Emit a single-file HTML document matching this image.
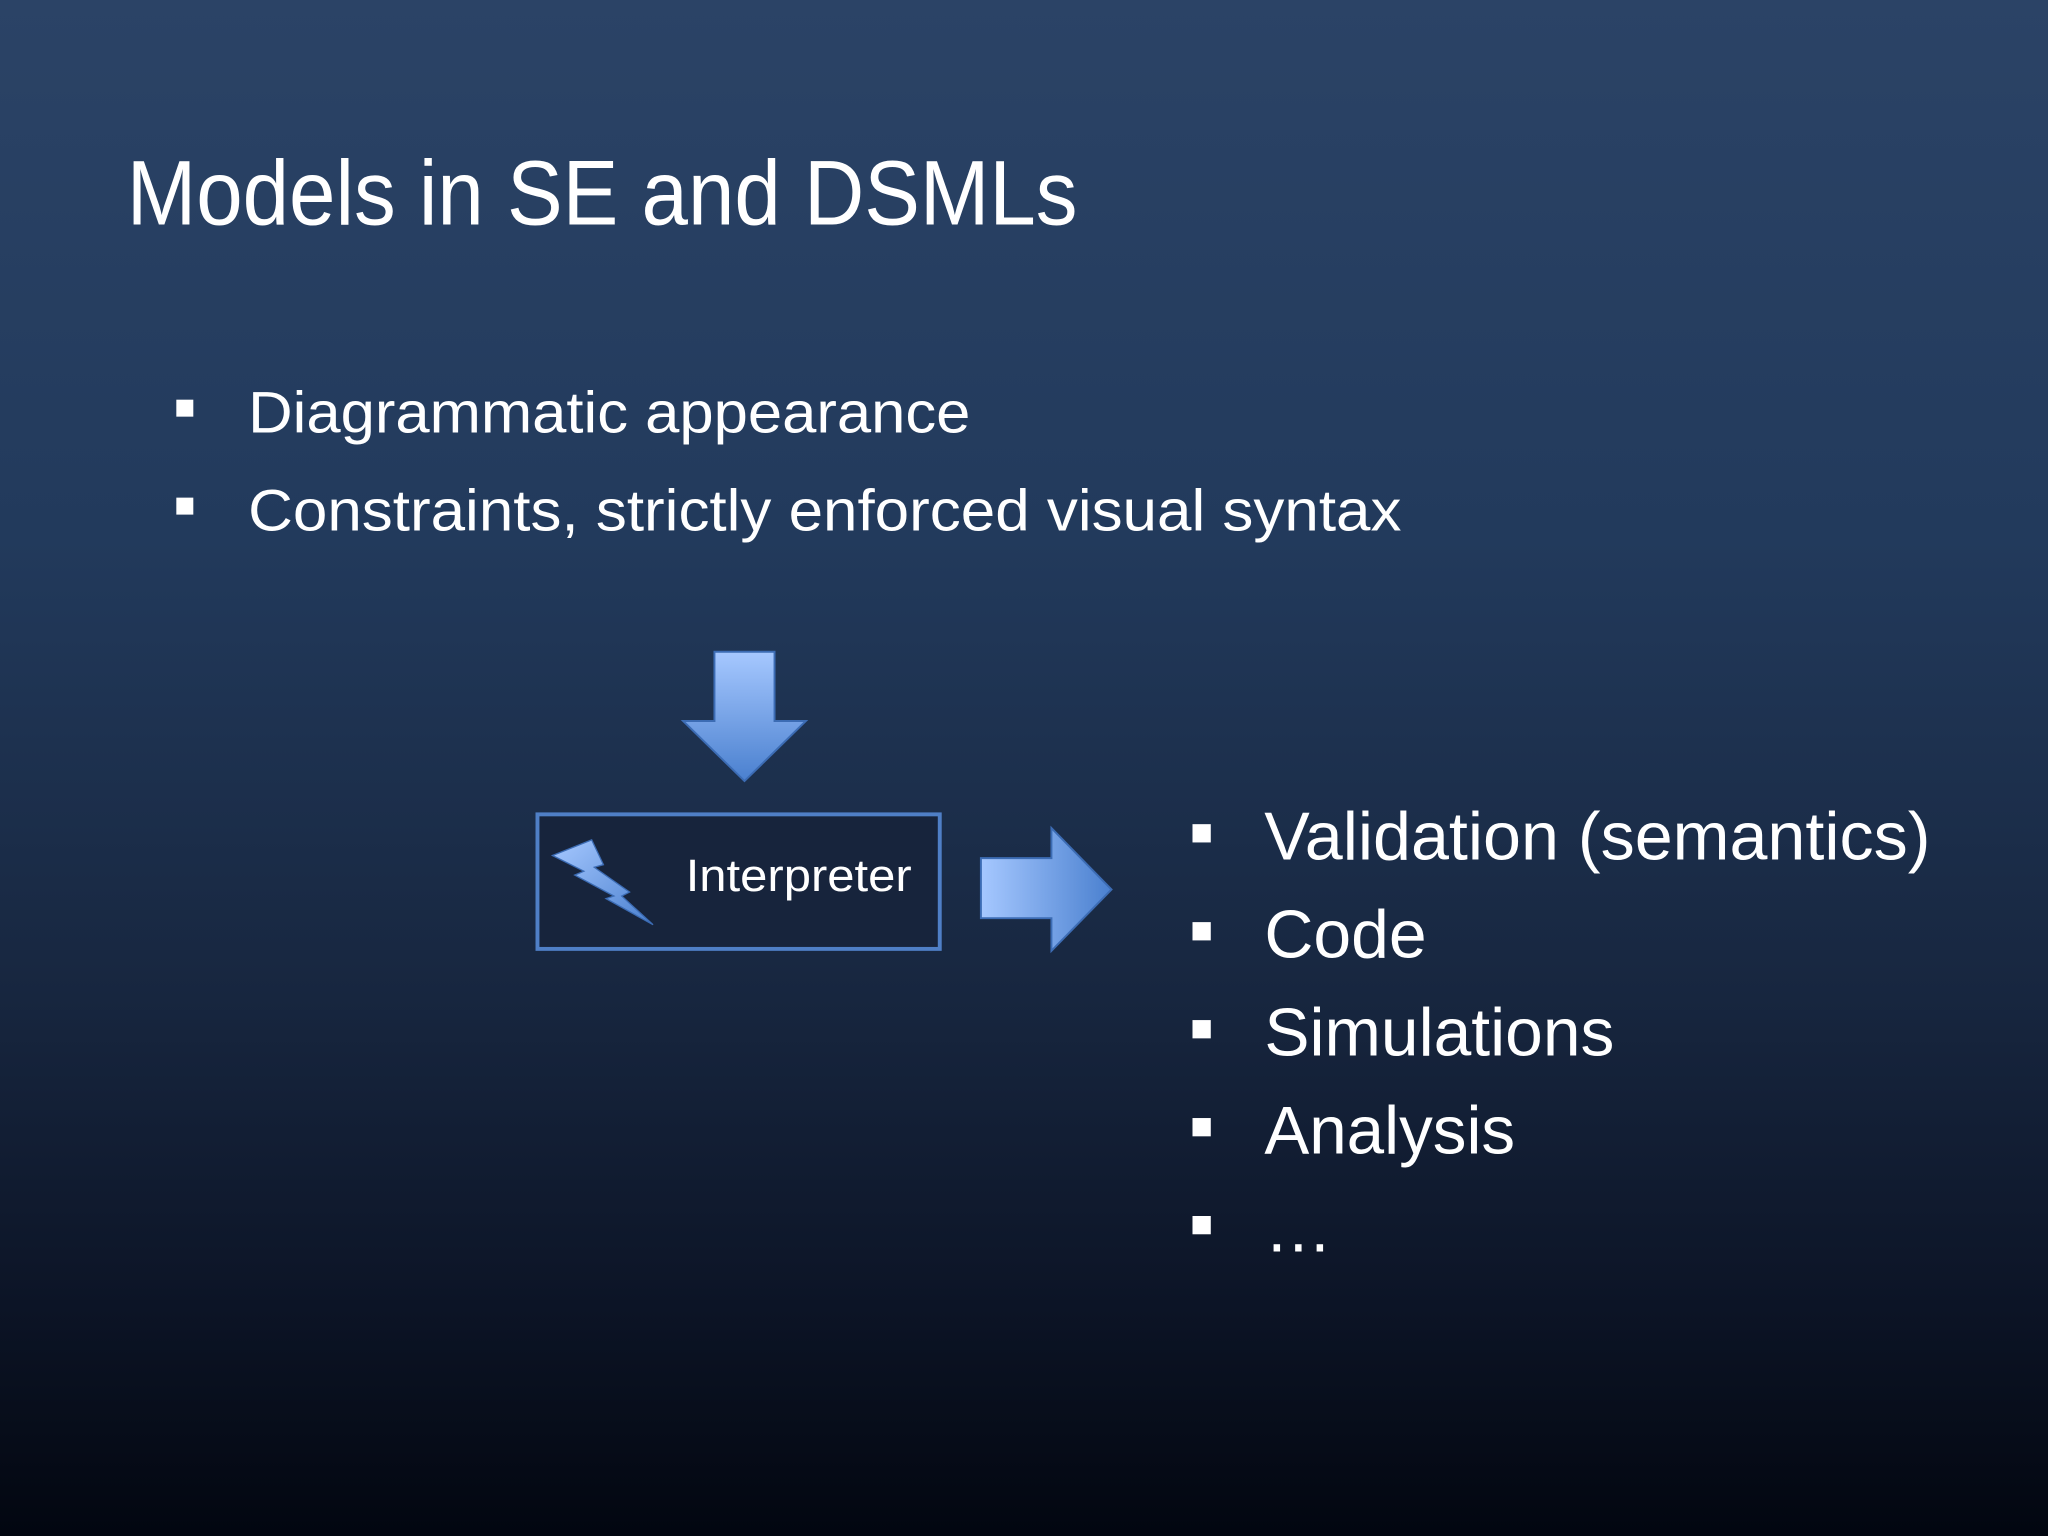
<!DOCTYPE html>
<html><head><meta charset="utf-8"><style>
html,body{margin:0;padding:0;background:#000;}
svg{display:block}
text{font-family:"Liberation Sans","DejaVu Sans",sans-serif;fill:#fff}
</style></head><body>
<svg width="2048" height="1536" viewBox="0 0 1568 1176" xmlns="http://www.w3.org/2000/svg">
<defs>
<linearGradient id="bg" x1="0" y1="0" x2="0" y2="1">
<stop offset="0" stop-color="#2b4366"/>
<stop offset="0.35" stop-color="#223a5c"/>
<stop offset="0.65" stop-color="#17263f"/>
<stop offset="0.85" stop-color="#0c1426"/>
<stop offset="0.93" stop-color="#070d1a"/>
<stop offset="1" stop-color="#020610"/>
</linearGradient>
<linearGradient id="dn" x1="0" y1="0" x2="0" y2="1">
<stop offset="0" stop-color="#a6c8ff"/><stop offset="1" stop-color="#4a80cf"/>
</linearGradient>
<linearGradient id="rt" x1="0" y1="0" x2="1" y2="0">
<stop offset="0" stop-color="#a6c8ff"/><stop offset="1" stop-color="#4a80cf"/>
</linearGradient>
<linearGradient id="lt" x1="0" y1="0" x2="1" y2="1">
<stop offset="0" stop-color="#a6c8ff"/><stop offset="1" stop-color="#4a80cf"/>
</linearGradient>
</defs>
<rect width="1568" height="1176" fill="url(#bg)"/>
<text x="97" y="172" font-size="70" textLength="728" lengthAdjust="spacingAndGlyphs">Models in SE and DSMLs</text>
<rect x="135" y="306" width="13" height="13" fill="#fff"/>
<rect x="135" y="381" width="13" height="13" fill="#fff"/>
<text x="190" y="331" font-size="45" textLength="553" lengthAdjust="spacingAndGlyphs">Diagrammatic appearance</text>
<text x="190" y="406" font-size="45" textLength="883" lengthAdjust="spacingAndGlyphs">Constraints, strictly enforced visual syntax</text>
<polygon points="547,499 593,499 593,552 617,552 570,598 523,552 547,552" fill="url(#dn)" stroke="#3c6cb4" stroke-width="1.5"/>
<rect x="411.5" y="623.5" width="308" height="103" fill="#17243c" stroke="#4f7fc6" stroke-width="3"/>
<polygon points="423,655 453,643 462,662 455,664 482,683 476,686 500,708 464,688 470,686 440,670 447,667" fill="url(#lt)" stroke="#3c6cb4" stroke-width="1"/>
<text x="525" y="682" font-size="35" textLength="173" lengthAdjust="spacingAndGlyphs">Interpreter</text>
<polygon points="751,657 805,657 805,634 851,681 805,728 805,703 751,703" fill="url(#rt)" stroke="#3c6cb4" stroke-width="1.5"/>
<g>
<rect x="913" y="631" width="14" height="14" fill="#fff"/>
<rect x="913" y="706" width="14" height="14" fill="#fff"/>
<rect x="913" y="781" width="14" height="14" fill="#fff"/>
<rect x="913" y="856" width="14" height="14" fill="#fff"/>
<rect x="913" y="931" width="14" height="14" fill="#fff"/>
<text x="968" y="658" font-size="52" textLength="510" lengthAdjust="spacingAndGlyphs">Validation (semantics)</text>
<text x="968" y="733" font-size="52">Code</text>
<text x="968" y="808" font-size="52" textLength="268" lengthAdjust="spacingAndGlyphs">Simulations</text>
<text x="968" y="883" font-size="52" textLength="192" lengthAdjust="spacingAndGlyphs">Analysis</text>
<text x="968" y="958" font-size="52">…</text>
</g>
</svg>
</body></html>
